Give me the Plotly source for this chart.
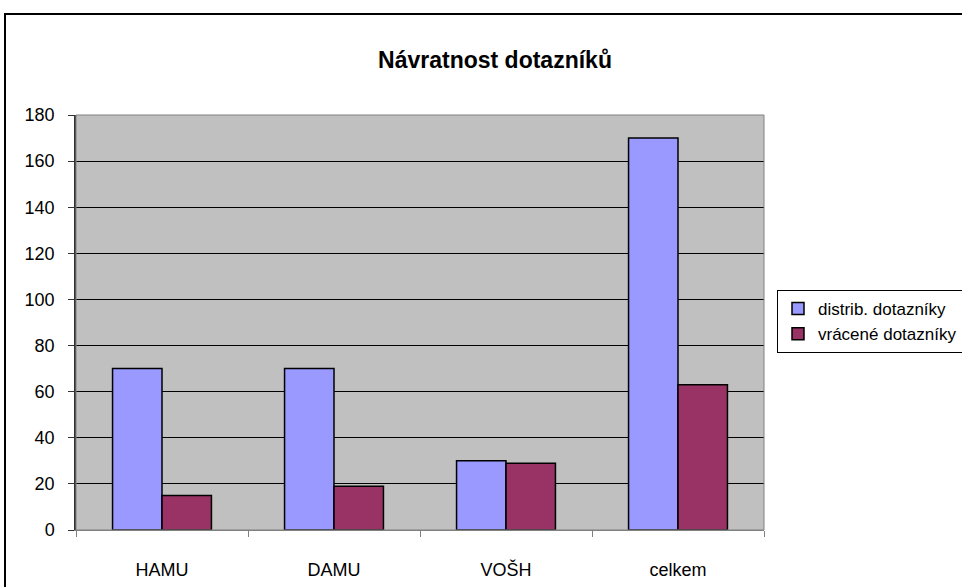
import plotly.graph_objects as go

categories = ["HAMU", "DAMU", "VOŠH", "celkem"]
distrib = [70, 70, 30, 170]
vracene = [15, 19, 29, 63]
series_names = ["distrib. dotazníky", "vrácené dotazníky"]
y_ticks = [0, 20, 40, 60, 80, 100, 120, 140, 160, 180]

W, H = 962, 587
# target plot area in page pixels: x 76..764, y 115..530
PL, PR, PT, PB = 76, 764, 115, 530
pw, ph = PR - PL, PB - PT
L, T = PL, PT
R = W - L - pw
B = H - T - ph

fig = go.Figure()
fig.add_trace(go.Bar(x=categories, y=distrib, name=series_names[0],
                     marker=dict(color="#9999FF", line=dict(color="black", width=1.5))))
fig.add_trace(go.Bar(x=categories, y=vracene, name=series_names[1],
                     marker=dict(color="#993366", line=dict(color="black", width=1.5))))

def px_x(x):
    return (x - PL) / pw

def px_y(y):
    return (PB - y) / ph

shapes = [
    dict(type="rect", xref="paper", yref="paper",
         x0=px_x(5), x1=px_x(990), y0=px_y(620), y1=px_y(14),
         line=dict(color="black", width=2), fillcolor="rgba(0,0,0,0)", layer="below"),
    dict(type="rect", xref="paper", yref="paper", x0=0, x1=1, y0=0, y1=1,
         line=dict(color="#808080", width=1), fillcolor="rgba(0,0,0,0)", layer="above"),
]

fig.update_layout(
    width=W, height=H,
    margin=dict(l=L, r=R, t=T, b=B, autoexpand=False),
    paper_bgcolor="white",
    plot_bgcolor="#C0C0C0",
    barmode="group",
    bargap=0.425,
    bargroupgap=0,
    font=dict(family="Liberation Sans, Arial, sans-serif", size=18, color="black"),
    title=dict(text="<b>Návratnost dotazníků</b>", xref="container", x=495 / W,
               xanchor="center", yref="container", y=1 - 60 / H,
               yanchor="middle", font=dict(size=23)),
    legend=dict(x=px_x(777), y=px_y(290), xanchor="left", yanchor="top",
                bordercolor="black", borderwidth=1, bgcolor="white",
                font=dict(size=17), itemwidth=30),
    shapes=shapes,
    xaxis=dict(showgrid=False, ticks="outside", tickson="boundaries", ticklen=6,
               tickcolor="#808080", showline=True, linecolor="#808080", linewidth=1,
               ticklabelstandoff=23, tickfont=dict(size=18), automargin=False),
    yaxis=dict(range=[0, 180], tickvals=y_ticks, showgrid=True, gridcolor="black",
               gridwidth=1, ticks="outside", ticklen=6, tickcolor="#333333",
               showline=True, linecolor="#333333", linewidth=1.5, zeroline=False,
               ticklabelstandoff=10, tickfont=dict(size=18), automargin=False),
)

fig.write_html("out.html", post_script="document.body.style.margin='0';",
               config={"displayModeBar": False})
